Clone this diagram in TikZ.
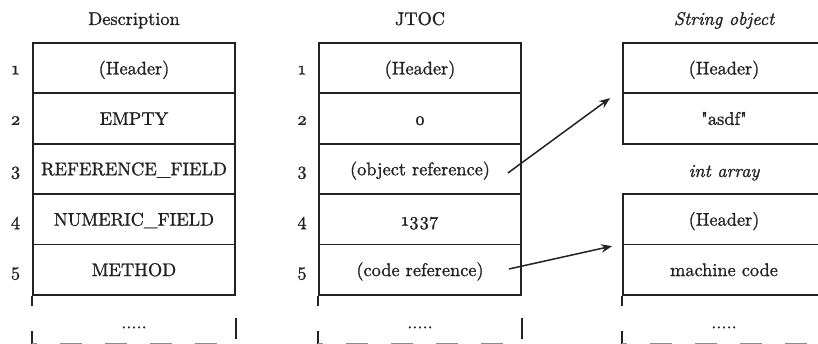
\documentclass[tikz,border=0pt]{standalone}
\usetikzlibrary{arrows.meta}
\definecolor{ink}{HTML}{222222}
% text faces: slightly heavier Latin Modern, old-style figures for numbers
\font\rmbody="[lmroman10-regular]:embolden=1.2" at 18.3pt
\font\itbody="[lmroman10-italic]:embolden=1.2" at 18.3pt
\font\numbody="[lmroman10-regular]:+onum;embolden=1.2" at 18.3pt
\tikzset{
  cell/.style={draw=ink, line width=1.8pt, minimum width=202pt, minimum height=50.4pt,
    inner sep=0pt, text=ink, font=\rmbody, text height=12.5pt, text depth=0pt},
  rownum/.style={text=ink, font=\numbody, inner sep=0pt, text height=12.5pt, text depth=0pt},
  coltitle/.style={text=ink, font=\rmbody, inner sep=0pt, text height=12.5pt, text depth=0pt},
  dots/.style={text=ink, font=\rmbody, inner sep=0pt, anchor=base},
  rail/.style={draw=ink, line width=1.8pt},
  tail/.style={draw=black!45, line width=1.5pt, dash pattern=on 22pt off 23pt, dash phase=17pt},
  ref/.style={draw=ink, line width=1.5pt, -{Stealth[length=11pt,width=8.5pt]}},
}
\begin{document}
\begin{tikzpicture}[x=1pt, y=1pt]
\useasboundingbox (0,0) rectangle (818,344);
\clip (0,0) rectangle (818,344);

% column titles
\node[coltitle] (tdesc) at (134,325.3) {Description};
\node[coltitle] (tjtoc) at (420,325.3) {JTOC};
\node[coltitle] (tstr)  at (724,325.3) {\itbody String object};
\node[coltitle] (tint)  at (724,173.3) {\itbody int array};

% description table
\node[cell] (d1) at (134,275.8) {(Header)};
\node[cell] (d2) at (134,225.4) {EMPTY};
\node[cell] (d3) at (134,175.0) {REFERENCE\_FIELD};
\node[cell] (d4) at (134,124.6) {NUMERIC\_FIELD};
\node[cell] (d5) at (134,74.2)  {METHOD};

% JTOC table
\node[cell] (j1) at (420,275.8) {(Header)};
\node[cell] (j2) at (420,225.4) {\numbody 0};
\node[cell] (j3) at (420,175.0) {(object reference)};
\node[cell] (j4) at (420,124.6) {\numbody 1337};
\node[cell] (j5) at (420,74.2)  {(code reference)};

% row numbers
\foreach \i/\y in {1/275.8, 2/225.4, 3/175.0, 4/124.6, 5/74.2} {
  \node[rownum] (dn\i) at (15.5,\y) {\i};
  \node[rownum] (jn\i) at (302,\y) {\i};
}

% string object
\node[cell] (s1) at (724,275.8) {(Header)};
\node[cell] (s2) at (724,225.4) {"asdf"};

% int array
\node[cell] (a1) at (724,124.6) {(Header)};
\node[cell] (a2) at (724,74.2)  {machine code};

% open-ended continuation below each table
\foreach \b in {d5, j5, a2} {
  \draw[rail] (\b.south west) -- ++(0,-10);
  \draw[rail] ([yshift=-35pt]\b.south west) -- ++(0,-14);
  \draw[rail] ([yshift=-22pt]\b.south east) -- ++(0,-21);
  \draw[tail] ([yshift=-48pt]\b.south west) -- ([yshift=-48pt]\b.south east);
  \node[dots] (\b dots) at ([yshift=-32.5pt]\b.south) {.....};
}

% references
\draw[ref] ([xshift=-14pt,yshift=-4pt]j3.east) -- ([xshift=-12pt,yshift=-5.6pt]s2.north west);
\draw[ref] ([xshift=-13pt,yshift=0.8pt]j5.east) -- ([xshift=-10pt,yshift=-2.4pt]a2.north west);
\end{tikzpicture}
\end{document}
